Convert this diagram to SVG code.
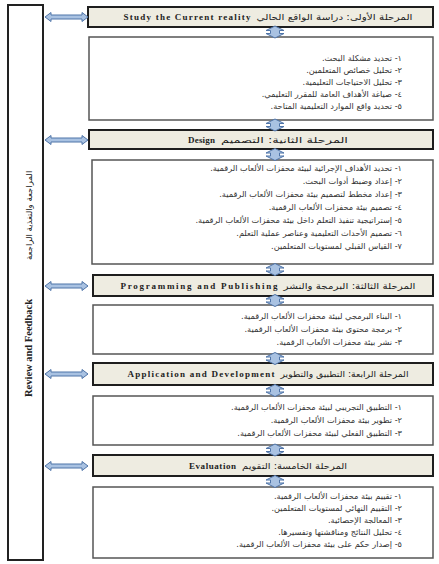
<svg xmlns="http://www.w3.org/2000/svg" width="439" height="564" viewBox="0 0 439 564">
<style>
.hdr{fill:#eeece1;stroke:#1e1e1e;stroke-width:2}
.box{fill:#fff;stroke:#555;stroke-width:1.5}
.side{fill:#fff;stroke:#222;stroke-width:2}
.ha{font-family:"DejaVu Sans",sans-serif;font-size:8.5px;fill:#222}
.en{font-family:"Liberation Serif",serif;font-weight:bold;font-size:9px;fill:#222}
.it{font-family:"DejaVu Sans",sans-serif;font-size:8.2px;fill:#333;direction:rtl;text-anchor:start}
.arr{fill:#a9c2e2;stroke:#4f74a8;stroke-width:1}
.vt{font-family:"Liberation Serif",serif;font-weight:bold;font-size:10.5px;fill:#222}
.va{font-family:"DejaVu Sans",sans-serif;font-size:8.5px;fill:#222}
</style>
<defs>
<path id="harr" d="M0,0 L6,-4.5 L6,-2 L37,-2 L37,-4.5 L43,0 L37,4.5 L37,2 L6,2 L6,4.5 Z"/>
<path id="varr" d="M0,0 L9,4.5 L4.5,4.5 L4.5,7.5 L9,7.5 L0,12 L-9,7.5 L-4.5,7.5 L-4.5,4.5 L-9,4.5 Z"/>
</defs>

<g id="review">
<rect class="side" x="8" y="5" width="35" height="555"/>
<text class="vt" transform="translate(32,397) rotate(-90)">Review and Feedback</text>
<text class="va" transform="translate(32,260) rotate(-90)" style="direction:rtl" text-anchor="end">المراجعة والتغذية الراجعة</text>
</g>

<g id="stage1-header">
<rect class="hdr" x="88" y="7" width="345" height="20"/>
<text class="en" x="123.5" y="20" textLength="127" lengthAdjust="spacing">Study the Current reality</text>
<text class="ha" x="256.5" y="20" textLength="156" lengthAdjust="spacingAndGlyphs">المرحلة الأولى: دراسة الواقع الحالي</text>
</g>
<g id="stage1-items">
<rect class="box" x="89" y="37" width="344" height="83"/>
<text class="it" x="402" y="61">١- تحديد مشكلة البحث.</text>
<text class="it" x="402" y="73">٢- تحليل خصائص المتعلمين.</text>
<text class="it" x="402" y="85">٣- تحليل الاحتياجات التعليمية.</text>
<text class="it" x="402" y="97">٤- صياغة الأهداف العامة للمقرر التعليمي.</text>
<text class="it" x="402" y="109">٥- تحديد واقع الموارد التعليمية المتاحة.</text>
</g>

<g id="stage2-header">
<rect class="hdr" x="89" y="130" width="344" height="19"/>
<text class="en" x="188" y="142.5" textLength="27" lengthAdjust="spacing">Design</text>
<text class="ha" x="221" y="142.5" textLength="127" lengthAdjust="spacingAndGlyphs">المرحلة الثانية: التصميم</text>
</g>
<g id="stage2-items">
<rect class="box" x="92" y="160" width="341" height="104"/>
<text class="it" x="402" y="171">١- تحديد الأهداف الإجرائية لبيئة محفزات الألعاب الرقمية.</text>
<text class="it" x="402" y="184">٢- إعداد وضبط أدوات البحث.</text>
<text class="it" x="402" y="197">٣- إعداد مخطط لتصميم بيئة محفزات الألعاب الرقمية.</text>
<text class="it" x="402" y="210">٤- تصميم بيئة محفزات الألعاب الرقمية.</text>
<text class="it" x="402" y="223">٥- إستراتيجية تنفيذ التعلم داخل بيئة محفزات الألعاب الرقمية.</text>
<text class="it" x="402" y="236">٦- تصميم الأحداث التعليمية وعناصر عملية التعلم.</text>
<text class="it" x="402" y="249">٧- القياس القبلي لمستويات المتعلمين.</text>
</g>

<g id="stage3-header">
<rect class="hdr" x="93" y="275" width="340" height="21"/>
<text class="en" x="120.5" y="288.5" textLength="157" lengthAdjust="spacing">Programming and Publishing</text>
<text class="ha" x="283.5" y="288.5" textLength="132" lengthAdjust="spacingAndGlyphs">المرحلة الثالثة: البرمجة والنشر</text>
</g>
<g id="stage3-items">
<rect class="box" x="93" y="305" width="340" height="49"/>
<text class="it" x="402" y="319">١- البناء البرمجي لبيئة محفزات الألعاب الرقمية.</text>
<text class="it" x="402" y="332">٢- برمجة محتوى بيئة محفزات الألعاب الرقمية.</text>
<text class="it" x="402" y="345">٣- نشر بيئة محفزات الألعاب الرقمية.</text>
</g>

<g id="stage4-header">
<rect class="hdr" x="93" y="363" width="340" height="22"/>
<text class="en" x="127.5" y="377" textLength="147" lengthAdjust="spacing">Application and Development</text>
<text class="ha" x="280.5" y="377" textLength="128" lengthAdjust="spacingAndGlyphs">المرحلة الرابعة: التطبيق والتطوير</text>
</g>
<g id="stage4-items">
<rect class="box" x="93" y="396" width="340" height="49"/>
<text class="it" x="402" y="410">١- التطبيق التجريبي لبيئة محفزات الألعاب الرقمية.</text>
<text class="it" x="402" y="423">٢- تطوير بيئة محفزات الألعاب الرقمية.</text>
<text class="it" x="402" y="436">٣- التطبيق الفعلي لبيئة محفزات الألعاب الرقمية.</text>
</g>

<g id="stage5-header">
<rect class="hdr" x="93" y="455" width="340" height="21"/>
<text class="en" x="189" y="468.5" textLength="47" lengthAdjust="spacing">Evaluation</text>
<text class="ha" x="242" y="468.5" textLength="105" lengthAdjust="spacingAndGlyphs">المرحلة الخامسة: التقويم</text>
</g>
<g id="stage5-items">
<rect class="box" x="93" y="487" width="340" height="71"/>
<text class="it" x="402" y="499">١- تقييم بيئة محفزات الألعاب الرقمية.</text>
<text class="it" x="402" y="511">٢- التقييم النهائي لمستويات المتعلمين.</text>
<text class="it" x="402" y="523">٣- المعالجة الإحصائية.</text>
<text class="it" x="402" y="535">٤- تحليل النتائج ومناقشتها وتفسيرها.</text>
<text class="it" x="402" y="547">٥- إصدار حكم على بيئة محفزات الألعاب الرقمية.</text>
</g>

<g id="connectors">
<use href="#harr" class="arr" x="45" y="17"/>
<use href="#harr" class="arr" x="45" y="140"/>
<use href="#harr" class="arr" x="45" y="286"/>
<use href="#harr" class="arr" x="45" y="374"/>
<use href="#harr" class="arr" x="45" y="466"/>
<use href="#varr" class="arr" x="275" y="26"/>
<use href="#varr" class="arr" x="275" y="119"/>
<use href="#varr" class="arr" x="275" y="148.5"/>
<use href="#varr" class="arr" x="275" y="263.5"/>
<use href="#varr" class="arr" x="275" y="294.5"/>
<use href="#varr" class="arr" x="275" y="352.5"/>
<use href="#varr" class="arr" x="275" y="384.5"/>
<use href="#varr" class="arr" x="275" y="444"/>
<use href="#varr" class="arr" x="275" y="475.5"/>
</g>
</svg>
